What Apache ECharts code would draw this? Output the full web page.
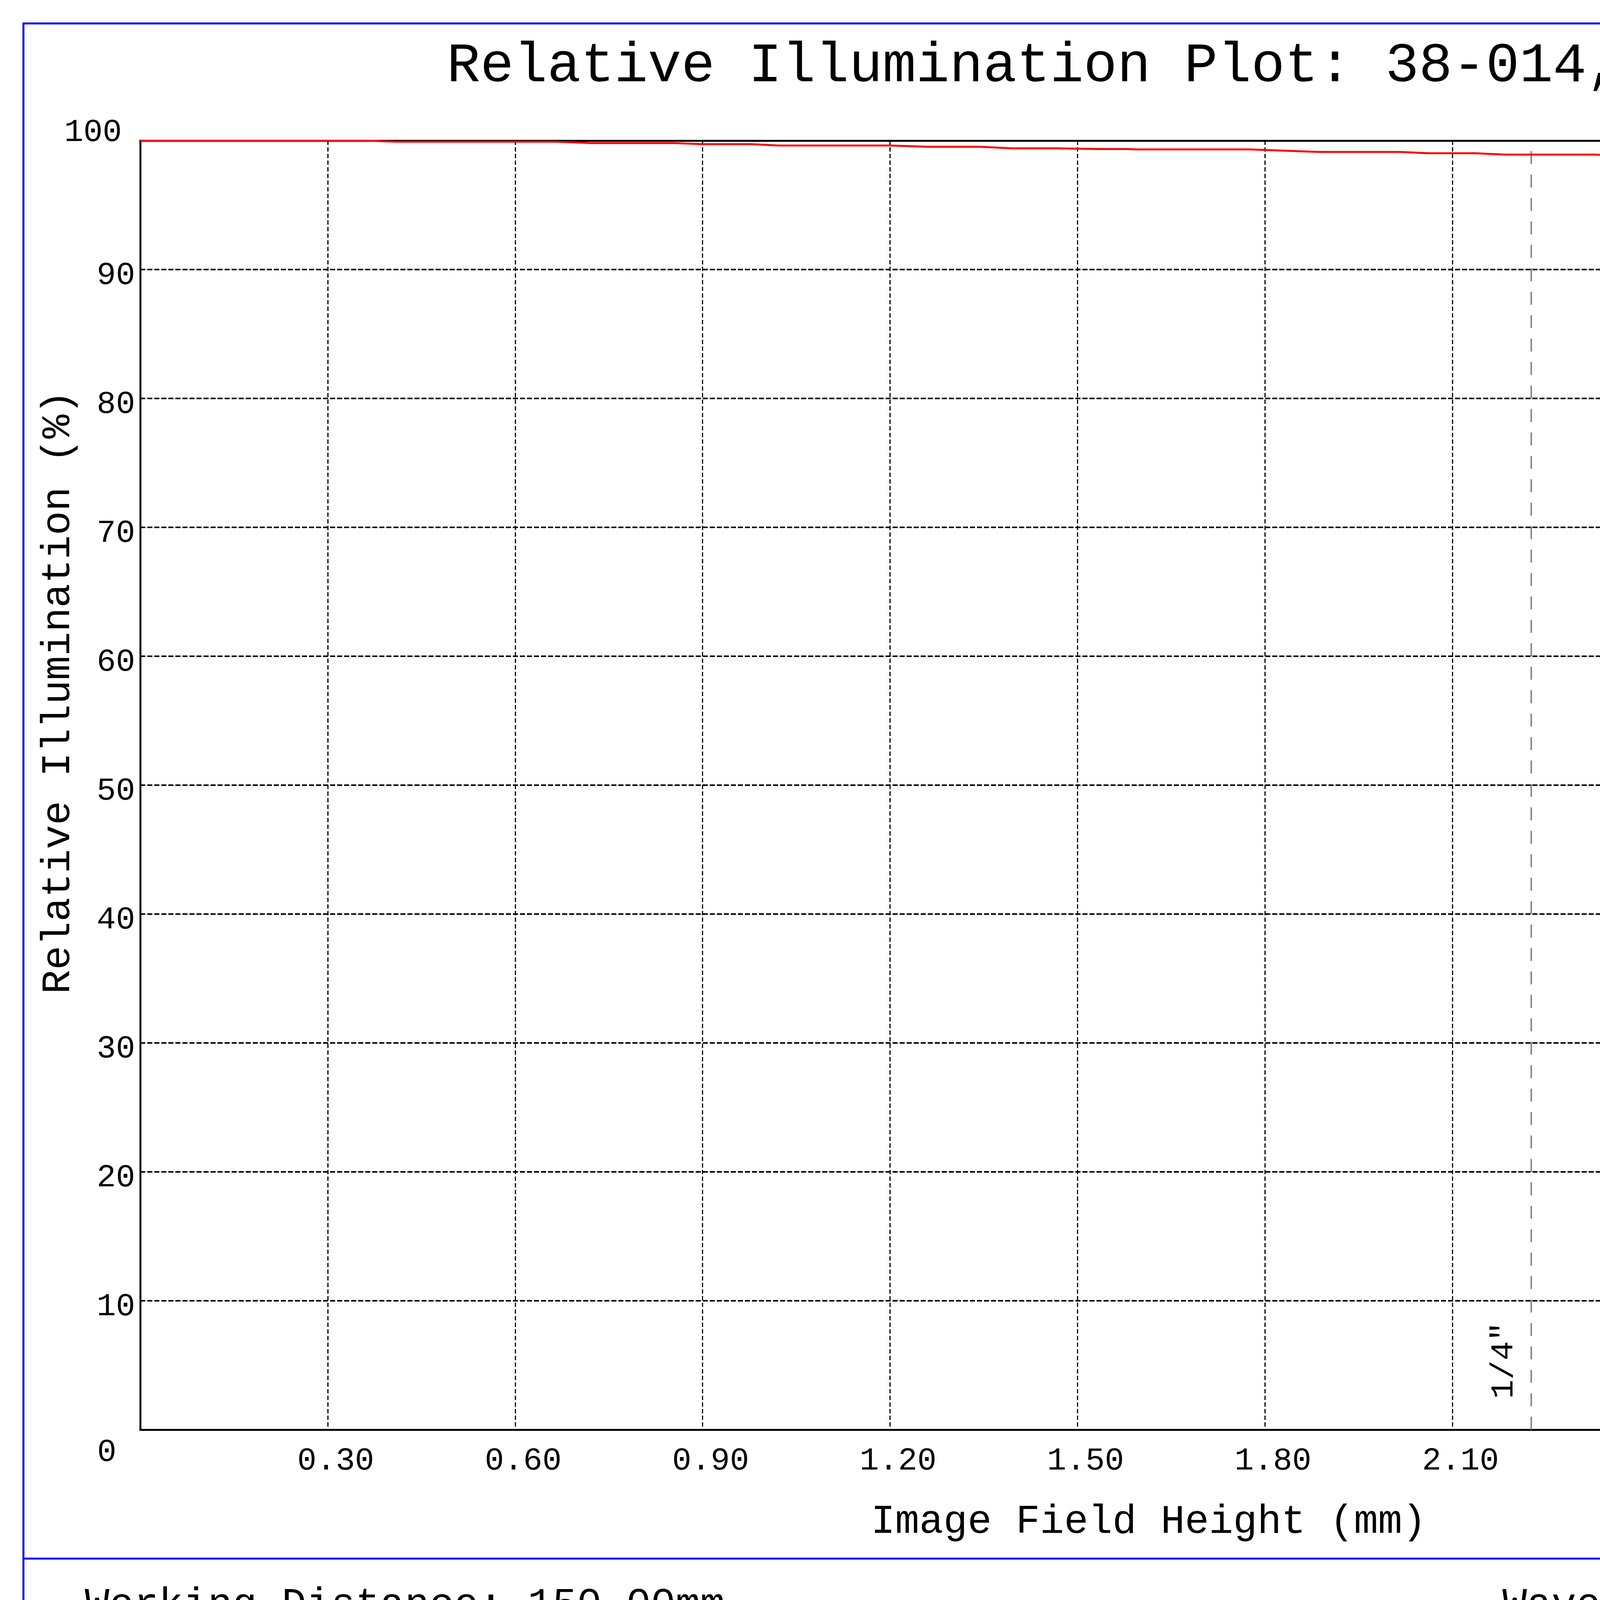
<!DOCTYPE html>
<html>
<head>
<meta charset="utf-8">
<script src="https://cdn.jsdelivr.net/npm/echarts@6/dist/echarts.min.js"></script>
<style>
html,body{margin:0;padding:0;background:#ffffff;overflow:hidden;}
#chart{width:6118px;height:4327px;}
</style>
</head>
<body>
<div id="chart"></div>
<script>
// ---- data ----
const fieldHeight = [0, 0.365, 0.409, 0.665, 0.721, 0.855, 0.899, 0.977, 1.022, 1.200, 1.261, 1.345, 1.395, 1.467, 1.534, 1.579, 1.596, 1.775, 1.887, 2.017, 2.061, 2.135, 2.185, 2.328, 2.384, 2.583, 2.632, 2.775, 2.812, 2.881, 2.943, 3.000];
const illumination = [100.0, 100.0, 99.92, 99.92, 99.81, 99.81, 99.73, 99.73, 99.62, 99.62, 99.52, 99.52, 99.40, 99.40, 99.35, 99.35, 99.32, 99.32, 99.12, 99.12, 99.02, 99.02, 98.92, 98.92, 98.82, 98.82, 98.92, 98.92, 99.00, 99.12, 99.15, 99.35];
const seriesName = 'f/8.00';
const legendTitle = 'F/Numbers';
const sensorPositions = [2.226, 3.0];
const sensorLabels = ['1/4"', '1/3"'];
const xMin = 0, xMax = 3, xStep = 0.3;
const yMin = 0, yMax = 100, yStep = 10;
const titleText = 'Relative Illumination Plot: 38-014, 6mm';
const xName = 'Image Field Height (mm)';
const yName = 'Relative Illumination (%)';
const footerLeft = 'Working Distance: 150.00mm';
const footerRight = 'Wavelength Range: 486nm-656nm';

const FONT = '"Liberation Mono", "Courier New", monospace';
const chart = echarts.init(document.getElementById('chart'), null, {renderer: 'canvas'});

const points = fieldHeight.map((x, i) => [x, illumination[i]]);

const hiddenY = {
  type: 'value', min: yMin, max: yMax, interval: yStep, position: 'left',
  axisLine: {show: false}, axisTick: {show: false}, splitLine: {show: false}
};

const option = {
  animation: false,
  backgroundColor: '#ffffff',
  grid: {left: 359, right: 960, top: 360, bottom: 667, containLabel: false, outerBoundsMode: 'none'},
  legend: {
    show: true, left: 5302, top: 1363, padding: 0, orient: 'vertical',
    itemWidth: 93, itemHeight: 5,
    data: [{name: seriesName, icon: 'rect'}],
    textStyle: {fontFamily: FONT, fontSize: 85, color: '#000', lineHeight: 100, padding: [0, 0, 0, 18]}
  },
  xAxis: [
    {
      type: 'value', min: xMin, max: xMax, interval: xStep, position: 'bottom',
      name: xName, nameLocation: 'middle', nameGap: 237,
      nameTextStyle: {fontFamily: FONT, fontSize: 103, color: '#000', verticalAlign: 'middle', padding: [0, 0, 0, 364]},
      axisLine: {show: true, onZero: false, lineStyle: {color: '#000', width: 5}},
      axisTick: {show: false},
      axisLabel: {
        show: true, showMinLabel: false, showMaxLabel: true, margin: 80,
        fontFamily: FONT, fontSize: 82, color: '#000', verticalAlign: 'middle',
        padding: [0, 0, 0, 41],
        formatter: v => Number(v).toFixed(2)
      },
      splitLine: {show: true, lineStyle: {color: '#000', width: 3, type: [11, 6]}}
    },
    {
      type: 'value', min: xMin, max: xMax, interval: xStep, position: 'top',
      axisLine: {show: true, onZero: false, lineStyle: {color: '#000', width: 5}},
      axisTick: {show: false}, axisLabel: {show: false}, splitLine: {show: false}
    }
  ],
  yAxis: [
    {
      type: 'value', min: yMin, max: yMax, interval: yStep, position: 'left',
      name: yName, nameLocation: 'middle', nameGap: 209, nameRotate: 90,
      nameTextStyle: {fontFamily: FONT, fontSize: 103, color: '#000', verticalAlign: 'middle', align: 'center', padding: [0, 0, 0, 476]},
      axisLine: {show: true, onZero: false, lineStyle: {color: '#000', width: 5}},
      axisTick: {show: false},
      axisLabel: {
        show: true, showMinLabel: false, showMaxLabel: false, margin: 13,
        fontFamily: FONT, fontSize: 82, color: '#000', align: 'right', verticalAlign: 'top',
        lineHeight: 30,
        formatter: v => String(v)
      },
      splitLine: {show: true, lineStyle: {color: '#000', width: 4, type: [13, 5]}}
    },
    Object.assign({}, hiddenY, {
      axisLabel: {
        show: true, customValues: [yMax], showMinLabel: true, showMaxLabel: true, margin: 47,
        fontFamily: FONT, fontSize: 82, color: '#000', align: 'right', verticalAlign: 'bottom',
        lineHeight: 42, formatter: v => String(v)
      }
    }),
    Object.assign({}, hiddenY, {
      axisLabel: {
        show: true, customValues: [yMin], showMinLabel: true, showMaxLabel: true, margin: 61,
        fontFamily: FONT, fontSize: 82, color: '#000', align: 'right', verticalAlign: 'top',
        lineHeight: 116, formatter: v => String(v)
      }
    })
  ],
  series: [
    {
      name: seriesName, type: 'line', xAxisIndex: 0, yAxisIndex: 0,
      data: points, symbol: 'none', showSymbol: false, smooth: false,
      itemStyle: {color: '#ff0000'},
      lineStyle: {color: '#ff0000', width: 5},
      z: 5,
      markLine: {
        silent: true, symbol: ['none', 'none'], animation: false,
        label: {show: false},
        lineStyle: {color: '#888888', width: 4, type: [33, 27]},
        emphasis: {disabled: true},
        data: sensorPositions.map(p => [{coord: [p, yMin]}, {coord: [p, yMax]}])
      }
    }
  ]
};
chart.setOption(option);

// ---- decorations (frame, title, footer, legend title, sensor labels) ----
const graphics = [
  {type: 'rect', shape: {x: 60, y: 60, width: 6000, height: 4200}, style: {fill: 'none', stroke: '#0000ff', lineWidth: 5}, silent: true, z: 0},
  {type: 'line', shape: {x1: 60, y1: 3990, x2: 6060, y2: 3990}, style: {stroke: '#0000ff', lineWidth: 5}, silent: true},
  {type: 'rect', shape: {x: 0, y: 4320, width: 6118, height: 7}, style: {fill: '#000'}, silent: true},
  {type: 'text', x: 2817, y: 170, style: {text: titleText, fill: '#000', font: '143px ' + FONT, textAlign: 'center', textVerticalAlign: 'middle'}, silent: true},
  {type: 'text', x: 217, y: 4110, style: {text: footerLeft, fill: '#000', font: '105px ' + FONT, textAlign: 'left', textVerticalAlign: 'middle'}, silent: true},
  {type: 'text', x: 3846, y: 4110, style: {text: footerRight, fill: '#000', font: '105px ' + FONT, textAlign: 'left', textVerticalAlign: 'middle'}, silent: true},
  {type: 'text', x: 5314, y: 1239, style: {text: legendTitle, fill: '#000', font: '85px ' + FONT, textAlign: 'left', textVerticalAlign: 'middle'}, silent: true}
];
sensorPositions.forEach((p, i) => {
  const px = chart.convertToPixel({xAxisIndex: 0, yAxisIndex: 0}, [p, yMin]);
  graphics.push({
    type: 'text', x: px[0] - 70, y: px[1] - 79, rotation: Math.PI / 2,
    style: {text: sensorLabels[i], fill: '#000', font: '82px ' + FONT, textAlign: 'left', textVerticalAlign: 'middle'},
    silent: true, z: 10
  });
});
chart.setOption({graphic: graphics});
</script>
</body>
</html>
